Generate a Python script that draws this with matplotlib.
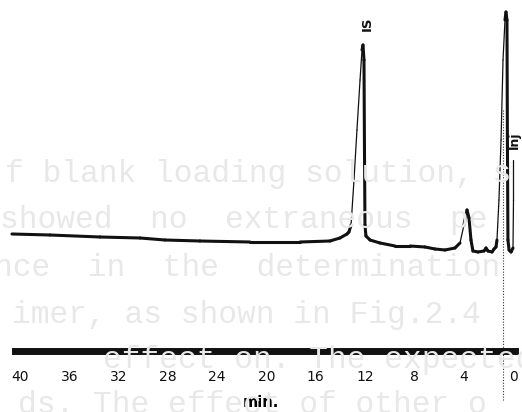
import numpy as np
import matplotlib.pyplot as plt
from matplotlib.collections import LineCollection

# Chromatogram of blank loading solution (time in min, detector response in chart units)
tempo = [40.65, 37.57, 33.51, 30.26, 28.24, 25.40, 21.34, 17.28, 14.85, 14.04,
         13.47, 13.31, 13.14, 12.90, 12.66, 12.41, 12.25, 12.17, 12.09, 12.05,
         12.01, 11.93, 11.60, 10.79, 9.57, 8.36, 7.14, 6.33, 5.52, 4.71,
         4.30, 3.98, 3.73, 3.57, 3.41, 3.25, 2.84, 2.35, 2.19, 2.03,
         1.70, 1.54, 1.38, 1.30, 1.14, 0.97, 0.81, 0.65, 0.57, 0.49,
         0.45, 0.41, 0.32, 0.16, 0.00, -0.04, -0.04]
resposta = [9, 8.5, 7.5, 7, 6, 5.5, 5, 5, 5.5, 7,
            9, 10, 13.5, 36, 61, 86, 101, 103.5, 96, 51,
            13.5, 8, 6, 4.5, 3, 3, 2.5, 1.5, 1, 2,
            4.5, 13.5, 21, 17, 6, 0.5, 0, 0.5, 2, 0.5,
            0, 1.5, 2.5, 6, 26, 56, 96, 116, 120, 116,
            51, 6, 1, 0, 2, 26, 46]

# Marcações do registro
t_injecao = 0.85
t_rotulo_is = 11.85
t_rotulo_inj = -0.1

ticks_min = [40, 36, 32, 28, 24, 20, 16, 12, 8, 4, 0]

# Texto do papel ao fundo
linhas_fundo = [
    (5, 174, "f blank loading solution, s"),
    (0, 220, "showed  no  extraneous  pe"),
    (-6, 268, "nce  in  the  determination"),
    (12, 315, "imer, as shown in Fig.2.4"),
    (103, 360, "effect on. The expected"),
    (18, 405, "ds. The effect of other o"),
]

fig = plt.figure(figsize=(5.22, 4.12), dpi=100)
fig.patch.set_facecolor('white')

for x, y, txt in linhas_fundo:
    fig.text(x / 522, 1 - y / 412, txt, family='Liberation Mono', fontsize=22.5,
             color='#e8e8e8', va='center', ha='left', zorder=0)

ax = fig.add_axes([0, 0, 1, 1])
ax.set_facecolor('none')
ax.set_xlim(41.62, -0.73)
ax.set_ylim(-80, 126)

# Traço do registrador: subidas rápidas ficam mais finas
pts = np.column_stack([tempo, resposta])
segs = np.stack([pts[:-1], pts[1:]], axis=1)
dr = np.diff(resposta)
larguras = np.where(dr > 8, 0.9, 2.2)
lc = LineCollection(segs, linewidths=larguras, colors='#111111',
                    capstyle='round', joinstyle='round')
ax.add_collection(lc)

# Linha pontilhada de injeção
ax.vlines(t_injecao, -74, 71, colors='#333333', linestyles=(0, (1, 1.5)), linewidth=0.8)

ax.text(t_rotulo_is, 114, 'IS', rotation=90, ha='center', va='center',
        fontsize=9.5, fontweight='bold', color='#111111')
ax.text(t_rotulo_inj, 56, 'Inj', rotation=90, ha='center', va='center',
        fontsize=9, fontweight='bold', color='#111111')

# Eixo do tempo como barra dupla
for lado in ['left', 'right', 'top']:
    ax.spines[lado].set_visible(False)
ax.spines['bottom'].set_position(('data', -49.25))
ax.spines['bottom'].set_bounds(40.41, -0.16)
ax.spines['bottom'].set_linewidth(5)
ax.spines['bottom'].set_color('#111111')
ax.hlines(-49.25, 40.35, -0.1, colors='white', linewidth=0.8)

ax.set_xticks(ticks_min)
ax.set_xticklabels([str(t) for t in ticks_min])
ax.tick_params(axis='x', length=0, pad=14, labelsize=10, colors='#111111')
ax.set_yticks([])
ax.set_xlabel('min.', fontsize=10.5, fontweight='bold', labelpad=8)

fig.savefig('out.png', dpi=100)
